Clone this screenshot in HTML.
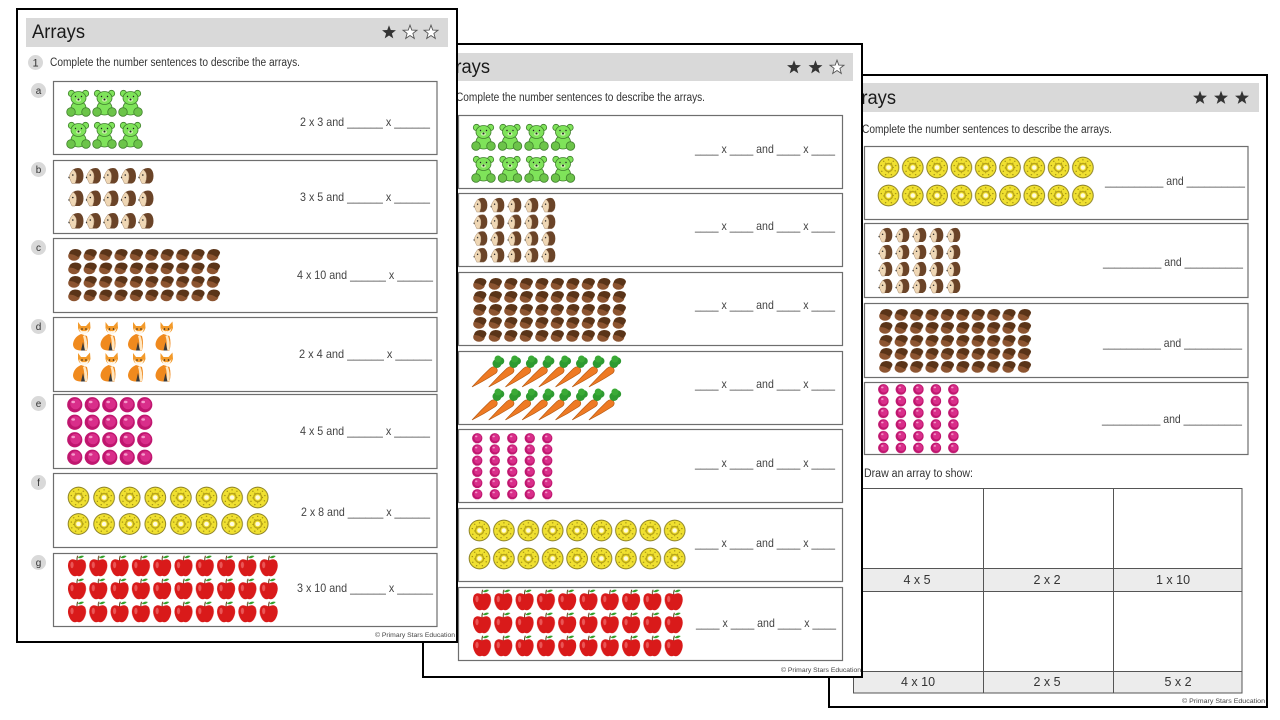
<!DOCTYPE html>
<html><head><meta charset="utf-8"><style>
html,body{margin:0;padding:0;background:#fff;width:1280px;height:720px;overflow:hidden}
svg{display:block}
text{font-family:"Liberation Sans",sans-serif}
</style></head><body>
<svg width="1280" height="720" viewBox="0 0 1280 720" xmlns="http://www.w3.org/2000/svg">
<defs>
<path id="star" d="M0,-7.3 L1.77,-2.45 L6.94,-2.25 L2.88,0.94 L4.29,5.9 L0,3.02 L-4.29,5.9 L-2.88,0.94 L-6.94,-2.25 L-1.77,-2.45Z"/>
<symbol id="bear" viewBox="0 0 25 28">
 <g stroke="#3f7f2c" stroke-width="0.8" fill="#7fe35a">
  <circle cx="5.5" cy="4.5" r="3.2"/>
  <circle cx="19.5" cy="4.5" r="3.2"/>
  <ellipse cx="12.5" cy="19" rx="7.5" ry="7"/>
  <ellipse cx="12.5" cy="9" rx="7.5" ry="6.5"/>
  <circle cx="5" cy="23" r="4.3" fill="#6cc449"/>
  <circle cx="20" cy="23" r="4.3" fill="#6cc449"/>
 </g>
 <ellipse cx="12.5" cy="11" rx="2.5" ry="1.8" fill="#c8f0a8"/>
 <circle cx="12.5" cy="10.5" r="1" fill="#222"/>
 <circle cx="9.5" cy="7.5" r="0.7" fill="#222"/>
 <circle cx="15.5" cy="7.5" r="0.7" fill="#222"/>
</symbol>
<symbol id="hog" viewBox="0 0 16 17">
 <path d="M5 2.5 Q9 0 12.5 1.5 Q15.5 4 15.5 9 Q15.5 15 11.5 16.5 L7 16.5 Q9 12 8.5 8 Q8 4.5 5 2.5Z" fill="#6b4428"/>
 <path d="M5 2.5 Q8 4.5 8.5 8 Q9 12 7 16.5 L4 16.5 Q2.5 14 2 12 Q0.5 11.5 0.8 10 Q2 6 5 2.5Z" fill="#efd7b5" stroke="#8a6a4a" stroke-width="0.4"/>
 <circle cx="4.8" cy="8" r="0.8" fill="#222"/>
 <circle cx="1" cy="10.5" r="0.7" fill="#333"/>
</symbol>
<symbol id="acorn" viewBox="0 0 15 13">
 <ellipse cx="7" cy="8" rx="5.8" ry="4.8" fill="#8c5430"/>
 <path d="M2 6 Q2.5 1.5 8 1 Q13.5 1 14.5 4.5 Q14 8 11 9 Q7 6 2 6Z" fill="#5a3418"/>
</symbol>
<symbol id="fox" viewBox="0 0 22 30">
 <path d="M9 13 Q2 16 1 23 Q1 29 8 29.5 L15 29.5 Q17 22 15 15Z" fill="#f08a1e"/>
 <path d="M13 14 Q16 20 15 29 L12 29 Q13 21 11 15Z" fill="#ffe6c0"/>
 <path d="M6 1 L9 5 L14 5 L18 0.5 L18.5 7 Q17 12 12 13 Q7 12 6 7Z" fill="#f39a2a"/>
 <path d="M7 7 Q9.5 11 12 10 Q14.5 11 17 7 Q16 13 12 13.5 Q8 13 7 7Z" fill="#fff6e8"/>
 <circle cx="10" cy="8" r="0.8" fill="#222"/>
 <circle cx="14" cy="8" r="0.8" fill="#222"/>
 <path d="M11 21 L13 29.5 L9 29.5Z" fill="#3a3a3a"/>
</symbol>
<symbol id="pink" viewBox="0 0 10 10">
 <circle cx="5" cy="5" r="4.9" fill="#c0166f"/>
 <circle cx="5.5" cy="4.5" r="3.4" fill="#d92e8a"/>
 <ellipse cx="4" cy="3.2" rx="1.2" ry="0.8" fill="#f59acb"/>
</symbol>
<symbol id="donut" viewBox="0 0 24 24">
 <circle cx="12" cy="12" r="11.3" fill="#8a7f22"/>
 <circle cx="12" cy="12" r="10.3" fill="#f0e030"/>
 <circle cx="12" cy="12" r="4.2" fill="none" stroke="#b8a418" stroke-width="1.4"/>
 <circle cx="12" cy="12" r="2.4" fill="#fffbe0"/>
 <g fill="#9c8c12">
  <circle cx="12" cy="4" r="0.7"/><circle cx="17" cy="5.5" r="0.7"/><circle cx="19.5" cy="10" r="0.7"/>
  <circle cx="19" cy="15.5" r="0.7"/><circle cx="15" cy="19.5" r="0.7"/><circle cx="9" cy="19.5" r="0.7"/>
  <circle cx="5" cy="16" r="0.7"/><circle cx="4.5" cy="10" r="0.7"/><circle cx="7" cy="5.5" r="0.7"/>
  <circle cx="12" cy="17.5" r="0.6"/><circle cx="17" cy="12" r="0.6"/><circle cx="7" cy="12.5" r="0.6"/>
  <circle cx="15" cy="7.5" r="0.6"/><circle cx="9" cy="7.5" r="0.6"/>
 </g>
</symbol>
<symbol id="apple" viewBox="0 0 20 22">
 <path d="M10 5.5 Q4.5 2.5 1.8 6.5 Q-0.5 12 3.5 18.5 Q6.5 22.5 10 20.8 Q13.5 22.5 16.5 18.5 Q20.5 12 18.2 6.5 Q15.5 2.5 10 5.5Z" fill="#d91a1a"/>
 <ellipse cx="5" cy="10" rx="1.6" ry="3.2" fill="#f27070" opacity="0.7"/>
 <path d="M10 5.5 Q9.8 2.5 10.8 0.8" stroke="#5a3510" stroke-width="1" fill="none"/>
 <path d="M10.8 2.8 Q13.5 -0.2 17 1 Q14.5 4.2 10.8 2.8Z" fill="#35a02c"/>
</symbol>
<symbol id="carrot" viewBox="0 0 34 33">
 <path d="M1 32 Q10 22 19 13.5 Q22.5 10.5 25.5 13 Q27.5 16 24.5 18.5 Q13 26 1 32Z" fill="#ee7a24" stroke="#b3560e" stroke-width="0.6"/>
 <circle cx="26" cy="8.5" r="4.5" fill="#2e9a30"/>
 <circle cx="29.5" cy="6" r="3.8" fill="#2e9a30"/>
 <circle cx="27" cy="4" r="3.5" fill="#3aaa36"/>
</symbol>

<!-- sheet 1 patterns -->
<pattern id="p1bear" patternUnits="userSpaceOnUse" x="66" y="89" width="26" height="32"><use href="#bear" width="25" height="28"/></pattern>
<pattern id="p1hog" patternUnits="userSpaceOnUse" x="68" y="167" width="17.5" height="22.5"><use href="#hog" width="16" height="17"/></pattern>
<pattern id="p1acorn" patternUnits="userSpaceOnUse" x="67" y="248" width="15.4" height="13.5"><use href="#acorn" width="15" height="13"/></pattern>
<pattern id="p1fox" patternUnits="userSpaceOnUse" x="72" y="321" width="27.5" height="31"><use href="#fox" width="22" height="30"/></pattern>
<pattern id="p1pink" patternUnits="userSpaceOnUse" x="67" y="397" width="17.5" height="17.5"><use href="#pink" width="15.5" height="15.5"/></pattern>
<pattern id="p1donut" patternUnits="userSpaceOnUse" x="67" y="486" width="25.6" height="26.5"><use href="#donut" width="23" height="23"/></pattern>
<pattern id="p1apple" patternUnits="userSpaceOnUse" x="67" y="555" width="21.3" height="23"><use href="#apple" width="20" height="22"/></pattern>
<!-- sheet 2 patterns -->
<pattern id="p2bear" patternUnits="userSpaceOnUse" x="471" y="123" width="26.5" height="32"><use href="#bear" width="25" height="28"/></pattern>
<pattern id="p2hog" patternUnits="userSpaceOnUse" x="473" y="197" width="17" height="16.7"><use href="#hog" width="15" height="15.5"/></pattern>
<pattern id="p2acorn" patternUnits="userSpaceOnUse" x="472" y="277" width="15.5" height="13"><use href="#acorn" width="15" height="13"/></pattern>
<pattern id="p2pink" patternUnits="userSpaceOnUse" x="472" y="433" width="17.5" height="11.2"><use href="#pink" width="10.5" height="10.5"/></pattern>
<pattern id="p2donut" patternUnits="userSpaceOnUse" x="468" y="519" width="24.4" height="28"><use href="#donut" width="23" height="23"/></pattern>
<pattern id="p2apple" patternUnits="userSpaceOnUse" x="472" y="589" width="21.3" height="23"><use href="#apple" width="20" height="22"/></pattern>
<!-- sheet 3 patterns -->
<pattern id="p3donut" patternUnits="userSpaceOnUse" x="877" y="156" width="24.3" height="28"><use href="#donut" width="23" height="23"/></pattern>
<pattern id="p3hog" patternUnits="userSpaceOnUse" x="878" y="227" width="17" height="17"><use href="#hog" width="15" height="15.5"/></pattern>
<pattern id="p3acorn" patternUnits="userSpaceOnUse" x="878" y="308" width="15.4" height="13"><use href="#acorn" width="15" height="13"/></pattern>
<pattern id="p3pink" patternUnits="userSpaceOnUse" x="878" y="384" width="17.5" height="11.7"><use href="#pink" width="10.8" height="10.8"/></pattern>
</defs>

<!-- ================= SHEET 3 (bottom) ================= -->
<g>
<rect x="829" y="75" width="438" height="632" fill="#fff" stroke="#000" stroke-width="2"/>
<rect x="838" y="83" width="421" height="29" fill="#d9d9d9"/>
<text x="843" y="104" font-size="19" fill="#1a1a1a" textLength="53" lengthAdjust="spacingAndGlyphs">Arrays</text>
<use href="#star" x="1200" y="98" fill="#333"/>
<use href="#star" x="1221" y="98" fill="#333"/>
<use href="#star" x="1242" y="98" fill="#333"/>
<text x="862" y="133" font-size="11.5" fill="#333" textLength="250" lengthAdjust="spacingAndGlyphs">Complete the number sentences to describe the arrays.</text>
<g fill="none" stroke="#6e6e6e" stroke-width="1.2">
<rect x="864.5" y="146.5" width="383.5" height="73"/>
<rect x="864.5" y="223.5" width="383.5" height="74"/>
<rect x="864.5" y="303.5" width="383.5" height="74"/>
<rect x="864.5" y="382.5" width="383.5" height="72"/>
</g>
<rect x="877" y="156" width="218.7" height="56" fill="url(#p3donut)"/>
<rect x="878" y="227" width="85" height="68" fill="url(#p3hog)"/>
<rect x="878" y="308" width="154" height="65" fill="url(#p3acorn)"/>
<rect x="878" y="384" width="87.5" height="70.2" fill="url(#p3pink)"/>
<g font-size="12" fill="#444">
<text x="1105" y="185" textLength="140" lengthAdjust="spacingAndGlyphs">__________ and __________</text>
<text x="1103" y="266" textLength="140" lengthAdjust="spacingAndGlyphs">__________ and __________</text>
<text x="1103" y="347" textLength="139" lengthAdjust="spacingAndGlyphs">__________ and __________</text>
<text x="1102" y="423" textLength="140" lengthAdjust="spacingAndGlyphs">__________ and __________</text>
</g>
<text x="864" y="477" font-size="11.5" fill="#333" textLength="109" lengthAdjust="spacingAndGlyphs">Draw an array to show:</text>
<rect x="853" y="568" width="389" height="23" fill="#ececec"/>
<rect x="853" y="671" width="389" height="22" fill="#ececec"/>
<g stroke="#555" stroke-width="1" fill="none">
<rect x="853.5" y="488.5" width="388.5" height="204.5"/>
<line x1="853" y1="568.5" x2="1242" y2="568.5"/>
<line x1="853" y1="591.5" x2="1242" y2="591.5"/>
<line x1="853" y1="671.5" x2="1242" y2="671.5"/>
<line x1="983.5" y1="488" x2="983.5" y2="693"/>
<line x1="1113.5" y1="488" x2="1113.5" y2="693"/>
</g>
<g font-size="12.5" fill="#333" text-anchor="middle">
<text x="917" y="584">4 x 5</text>
<text x="1047" y="584">2 x 2</text>
<text x="1173" y="584">1 x 10</text>
<text x="918" y="686">4 x 10</text>
<text x="1047" y="686">2 x 5</text>
<text x="1178" y="686">5 x 2</text>
</g>
<text x="1182" y="703" font-size="6.5" fill="#444" textLength="83" lengthAdjust="spacingAndGlyphs">© Primary Stars Education</text>
</g>

<!-- ================= SHEET 2 (middle) ================= -->
<g>
<rect x="423" y="44" width="439" height="633" fill="#fff" stroke="#000" stroke-width="2"/>
<rect x="432" y="53" width="421" height="28" fill="#d9d9d9"/>
<text x="437" y="73" font-size="19" fill="#1a1a1a" textLength="53" lengthAdjust="spacingAndGlyphs">Arrays</text>
<use href="#star" x="794" y="67.5" fill="#333"/>
<use href="#star" x="815.5" y="67.5" fill="#333"/>
<use href="#star" x="837" y="67.5" fill="#fff" stroke="#555" stroke-width="0.9"/>
<text x="456" y="101" font-size="11.5" fill="#333" textLength="249" lengthAdjust="spacingAndGlyphs">Complete the number sentences to describe the arrays.</text>
<g fill="none" stroke="#6e6e6e" stroke-width="1.2">
<rect x="458.5" y="115.5" width="384" height="73"/>
<rect x="458.5" y="193.5" width="384" height="73"/>
<rect x="458.5" y="272.5" width="384" height="73"/>
<rect x="458.5" y="351.5" width="384" height="73"/>
<rect x="458.5" y="429.5" width="384" height="73"/>
<rect x="458.5" y="508.5" width="384" height="73"/>
<rect x="458.5" y="587.5" width="384" height="73"/>
</g>
<rect x="471" y="123" width="106" height="64" fill="url(#p2bear)"/>
<rect x="473" y="197" width="85" height="66.8" fill="url(#p2hog)"/>
<rect x="472" y="277" width="155" height="65" fill="url(#p2acorn)"/>
<g>
<use href="#carrot" x="471" y="355" width="34" height="33"/>
<use href="#carrot" x="487.7" y="355" width="34" height="33"/>
<use href="#carrot" x="504.4" y="355" width="34" height="33"/>
<use href="#carrot" x="521.1" y="355" width="34" height="33"/>
<use href="#carrot" x="537.8" y="355" width="34" height="33"/>
<use href="#carrot" x="554.5" y="355" width="34" height="33"/>
<use href="#carrot" x="571.2" y="355" width="34" height="33"/>
<use href="#carrot" x="587.9" y="355" width="34" height="33"/>
<use href="#carrot" x="471" y="388" width="34" height="33"/>
<use href="#carrot" x="487.7" y="388" width="34" height="33"/>
<use href="#carrot" x="504.4" y="388" width="34" height="33"/>
<use href="#carrot" x="521.1" y="388" width="34" height="33"/>
<use href="#carrot" x="537.8" y="388" width="34" height="33"/>
<use href="#carrot" x="554.5" y="388" width="34" height="33"/>
<use href="#carrot" x="571.2" y="388" width="34" height="33"/>
<use href="#carrot" x="587.9" y="388" width="34" height="33"/>
</g>
<rect x="472" y="433" width="87.5" height="67.2" fill="url(#p2pink)"/>
<rect x="468" y="519" width="219.6" height="56" fill="url(#p2donut)"/>
<rect x="472" y="589" width="213" height="69" fill="url(#p2apple)"/>
<g font-size="12" fill="#444">
<text x="695" y="153" textLength="140" lengthAdjust="spacingAndGlyphs">____ x ____ and ____ x ____</text>
<text x="695" y="230" textLength="140" lengthAdjust="spacingAndGlyphs">____ x ____ and ____ x ____</text>
<text x="695" y="309" textLength="140" lengthAdjust="spacingAndGlyphs">____ x ____ and ____ x ____</text>
<text x="695" y="388" textLength="140" lengthAdjust="spacingAndGlyphs">____ x ____ and ____ x ____</text>
<text x="695" y="467" textLength="140" lengthAdjust="spacingAndGlyphs">____ x ____ and ____ x ____</text>
<text x="695" y="547" textLength="140" lengthAdjust="spacingAndGlyphs">____ x ____ and ____ x ____</text>
<text x="696" y="627" textLength="140" lengthAdjust="spacingAndGlyphs">____ x ____ and ____ x ____</text>
</g>
<text x="781" y="672" font-size="6.5" fill="#444" textLength="80" lengthAdjust="spacingAndGlyphs">© Primary Stars Education</text>
</g>

<!-- ================= SHEET 1 (top) ================= -->
<g>
<rect x="17" y="9" width="440" height="633" fill="#fff" stroke="#000" stroke-width="2"/>
<rect x="26" y="18" width="422" height="29" fill="#d9d9d9"/>
<text x="32" y="38" font-size="19" fill="#1a1a1a" textLength="53" lengthAdjust="spacingAndGlyphs">Arrays</text>
<use href="#star" x="389" y="32.5" fill="#333"/>
<use href="#star" x="410" y="32.5" fill="#fff" stroke="#555" stroke-width="0.9"/>
<use href="#star" x="431" y="32.5" fill="#fff" stroke="#555" stroke-width="0.9"/>
<circle cx="35.5" cy="62.5" r="7.5" fill="#d9d9d9"/>
<text x="35.5" y="66.5" font-size="11" fill="#333" text-anchor="middle">1</text>
<text x="50" y="66" font-size="11.5" fill="#333" textLength="250" lengthAdjust="spacingAndGlyphs">Complete the number sentences to describe the arrays.</text>
<g fill="none" stroke="#6e6e6e" stroke-width="1.2">
<rect x="53.5" y="81.5" width="383.5" height="73"/>
<rect x="53.5" y="160.5" width="383.5" height="73"/>
<rect x="53.5" y="238.5" width="383.5" height="74"/>
<rect x="53.5" y="317.5" width="383.5" height="74"/>
<rect x="53.5" y="394.5" width="383.5" height="74"/>
<rect x="53.5" y="473.5" width="383.5" height="74"/>
<rect x="53.5" y="553.5" width="383.5" height="73"/>
</g>
<g fill="#d9d9d9">
<circle cx="38.5" cy="90.5" r="7.5"/>
<circle cx="38.5" cy="169.5" r="7.5"/>
<circle cx="38.5" cy="247.5" r="7.5"/>
<circle cx="38.5" cy="326.5" r="7.5"/>
<circle cx="38.5" cy="403.5" r="7.5"/>
<circle cx="38.5" cy="482.5" r="7.5"/>
<circle cx="38.5" cy="562.5" r="7.5"/>
</g>
<g font-size="10" fill="#333" text-anchor="middle">
<text x="38.5" y="94">a</text>
<text x="38.5" y="173">b</text>
<text x="38.5" y="251">c</text>
<text x="38.5" y="330">d</text>
<text x="38.5" y="407">e</text>
<text x="38.5" y="486">f</text>
<text x="38.5" y="566">g</text>
</g>
<rect x="66" y="89" width="78" height="64" fill="url(#p1bear)"/>
<rect x="68" y="167" width="87.5" height="67.5" fill="url(#p1hog)"/>
<rect x="67" y="248" width="154" height="54" fill="url(#p1acorn)"/>
<rect x="72" y="321" width="110" height="62" fill="url(#p1fox)"/>
<rect x="67" y="397" width="87.5" height="70" fill="url(#p1pink)"/>
<rect x="67" y="486" width="204.8" height="53" fill="url(#p1donut)"/>
<rect x="67" y="555" width="213" height="69" fill="url(#p1apple)"/>
<g font-size="12" fill="#444">
<text x="300" y="126" textLength="130" lengthAdjust="spacingAndGlyphs">2 x 3 and ______ x ______</text>
<text x="300" y="201" textLength="130" lengthAdjust="spacingAndGlyphs">3 x 5 and ______ x ______</text>
<text x="297" y="279" textLength="136" lengthAdjust="spacingAndGlyphs">4 x 10 and ______ x ______</text>
<text x="299" y="358" textLength="133" lengthAdjust="spacingAndGlyphs">2 x 4  and ______ x ______</text>
<text x="300" y="435" textLength="130" lengthAdjust="spacingAndGlyphs">4 x 5 and ______ x ______</text>
<text x="301" y="516" textLength="129" lengthAdjust="spacingAndGlyphs">2 x 8 and ______ x ______</text>
<text x="297" y="592" textLength="136" lengthAdjust="spacingAndGlyphs">3 x 10 and ______ x ______</text>
</g>
<text x="375" y="637" font-size="6.5" fill="#444" textLength="80" lengthAdjust="spacingAndGlyphs">© Primary Stars Education</text>
</g>
</svg>
</body></html>
